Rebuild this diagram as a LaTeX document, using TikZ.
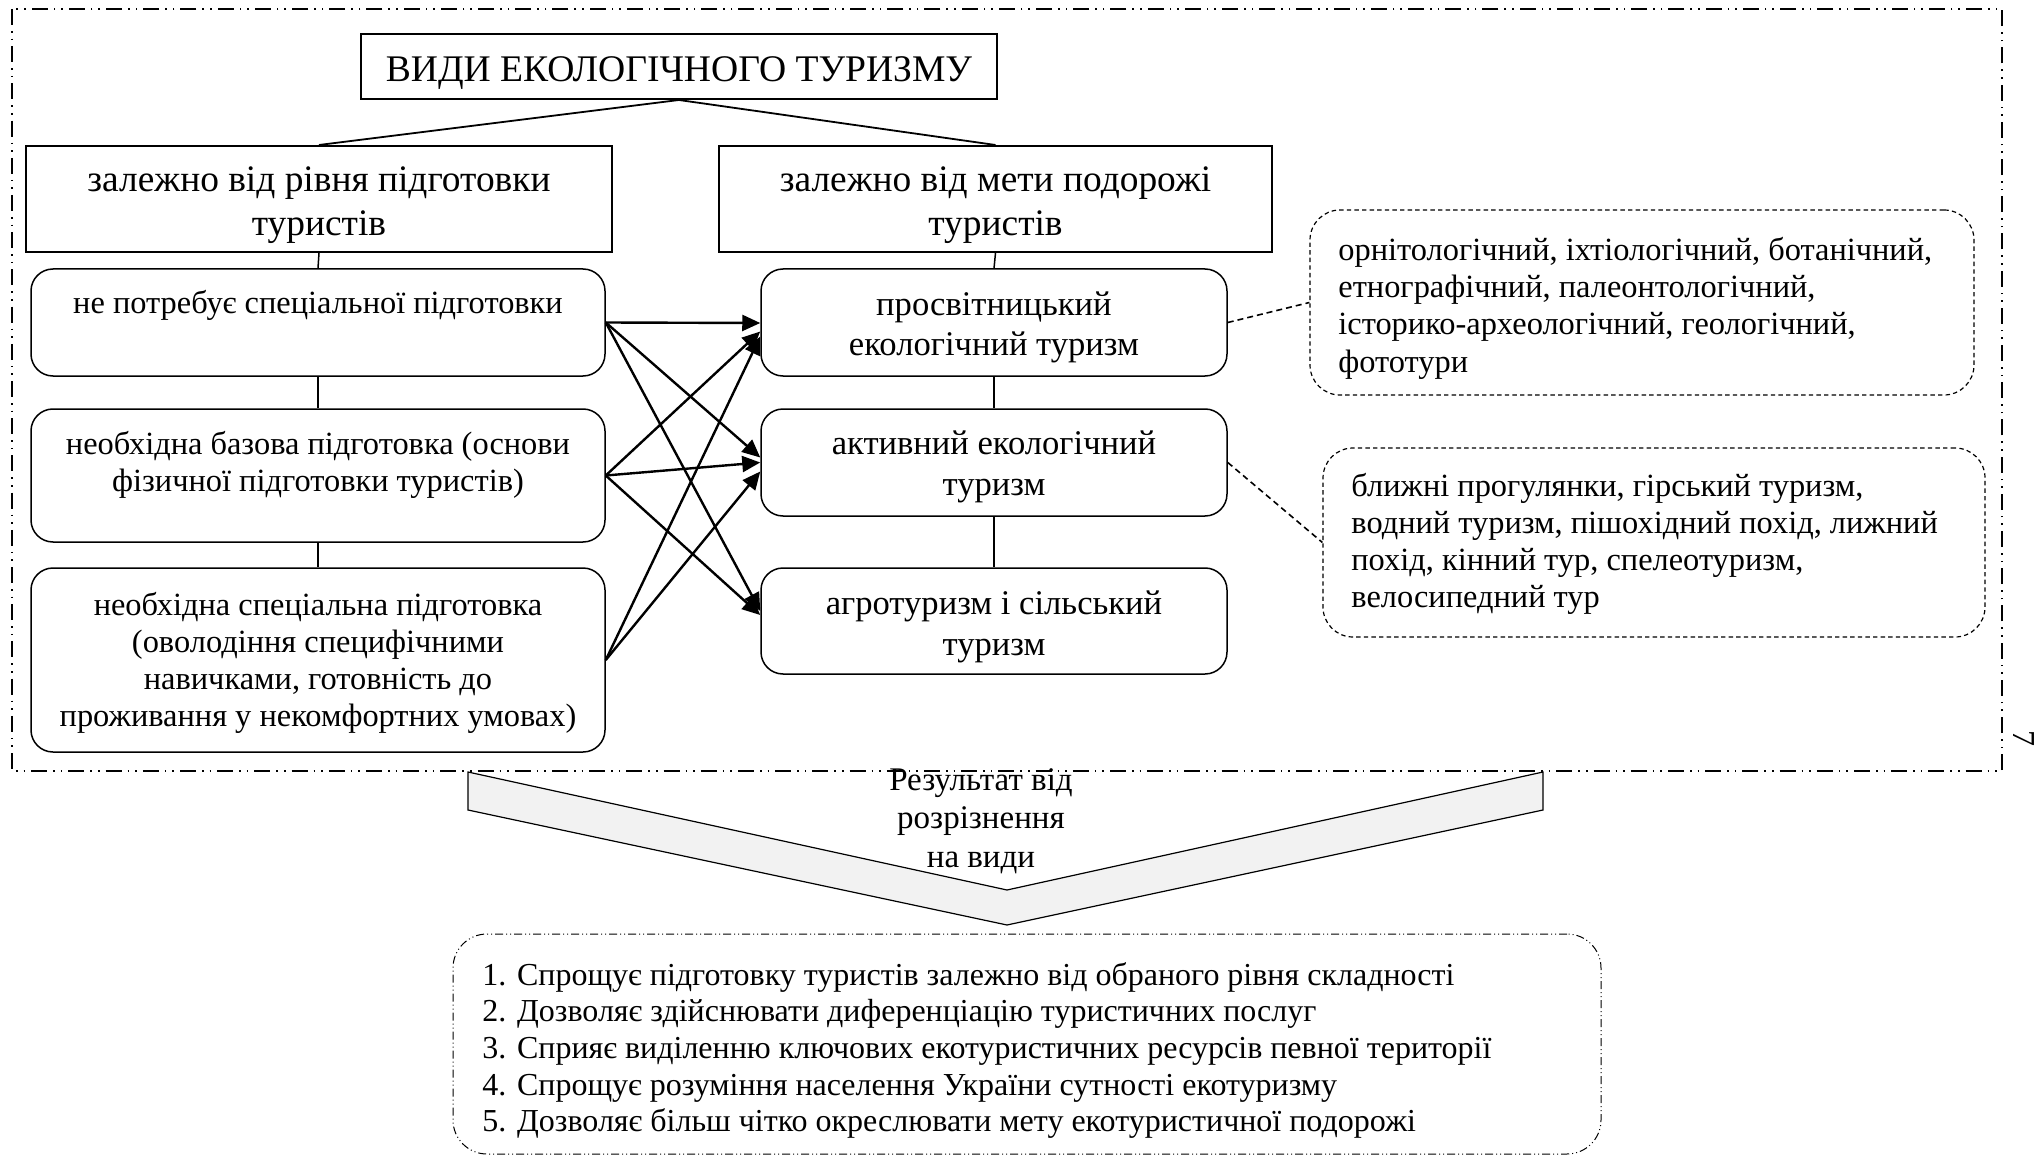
\documentclass[tikz,border=0pt]{standalone}
\usepackage{fontspec}
\setmainfont{Liberation Serif}
\usetikzlibrary{arrows.meta,calc}
\begin{document}
\begin{tikzpicture}[x=0.5pt,y=-0.5pt,
  sqbox/.style={draw, line width=1pt, inner sep=0pt},
  rbox/.style={draw, line width=0.75pt, rounded corners=11pt, inner sep=0pt},
  dbox/.style={draw, line width=0.6pt, dash pattern=on 2.2pt off 1.6pt, rounded corners=15pt, inner sep=0pt},
  botbox/.style={draw, line width=0.5pt, dash pattern=on 4pt off 1.5pt on 0.5pt off 1.5pt on 0.5pt off 1.5pt, rounded corners=17pt, inner sep=0pt},
  frame/.style={line width=0.75pt, dash pattern=on 8pt off 3pt on 0.8pt off 3pt on 0.8pt off 3pt},
  txtH/.style={inner sep=0pt, align=center, font=\fontsize{18.7}{22}\selectfont},
  txtL/.style={inner sep=0pt, align=center, font=\fontsize{16.2}{18.4}\selectfont},
  txtR/.style={inner sep=0pt, align=center, font=\fontsize{17.3}{20.2}\selectfont},
  txtS/.style={inner sep=0pt, align=left, font=\fontsize{16.2}{18.7}\selectfont},
  link/.style={line width=0.75pt},
  arr/.style={line width=1.2pt, -{Triangle[length=9pt,width=8pt]}},
  dlink/.style={line width=0.8pt, dash pattern=on 3pt off 2pt}
]
\useasboundingbox (0,0) rectangle (2040,1155);

% outer frame
\draw[frame] (12,9) rectangle (2002,771);
\node[rotate=-90, inner sep=0pt, font=\fontsize{16}{18}\selectfont] (pg) at (2024,738) {7};

% title and headers
\node[sqbox, minimum width=318pt, minimum height=32.5pt] (T) at (679,66.5) {};
\node[inner sep=0pt, anchor=base, font=\fontsize{18.8}{22}\selectfont] (Tt) at (679,82) {ВИДИ ЕКОЛОГІЧНОГО ТУРИЗМУ};
\node[sqbox, minimum width=293pt, minimum height=53pt] (LH) at (319,199) {};
\node[txtH] (LHt) at (319,205) {залежно від рівня підготовки\\туристів};
\node[sqbox, minimum width=276.5pt, minimum height=53pt] (RH) at (995.5,199) {};
\node[txtH] (RHt) at (995.5,205) {залежно від мети подорожі\\туристів};
\draw[line width=0.9pt] (T.south) -- (LH.north);
\draw[line width=0.9pt] (T.south) -- (RH.north);

% left column
\node[rbox, minimum width=287pt, minimum height=53.5pt] (L1) at (318,322.5) {};
\node[txtL] (L1t) at (318,305) {не потребує спеціальної підготовки};
\node[rbox, minimum width=287pt, minimum height=66.5pt] (L2) at (318,475.5) {};
\node[txtL] (L2t) at (318,465) {необхідна базова підготовка (основи\\фізичної підготовки туристів)};
\node[rbox, minimum width=287pt, minimum height=92pt] (L3) at (318,660) {};
\node[txtL] (L3t) at (318,663) {необхідна спеціальна підготовка\\(оволодіння специфічними\\навичками, готовність до\\проживання у некомфортних умовах)};
\draw[link] (LH.south) -- (L1.north);
\draw[link] (L1.south) -- (L2.north);
\draw[link] (L2.south) -- (L3.north);

% right column
\node[rbox, minimum width=233pt, minimum height=53.5pt] (R1) at (994,322.5) {};
\node[txtR] (R1t) at (994,327.5) {просвітницький\\екологічний туризм};
\node[rbox, minimum width=233pt, minimum height=53.5pt] (R2) at (994,462.5) {};
\node[txtR] (R2t) at (994,467) {активний екологічний\\туризм};
\node[rbox, minimum width=233pt, minimum height=53pt] (R3) at (994,621) {};
\node[txtR] (R3t) at (994,627) {агротуризм і сільський\\туризм};
\draw[link] (RH.south) -- (R1.north);
\draw[link] (R1.south) -- (R2.north);
\draw[link] (R2.south) -- (R3.north);

% arrows
\draw[arr] (L1.east) -- ($(R1.west)+(0,0.5)$);
\draw[arr] (L1.east) -- ($(R2.west)+(0,-5)$);
\draw[arr] (L1.east) -- ($(R3.west)+(0,-10)$);
\draw[arr] (L2.east) -- ($(R1.west)+(0,9)$);
\draw[arr] (L2.east) -- ($(R2.west)+(0,0)$);
\draw[arr] (L2.east) -- ($(R3.west)+(0,-6)$);
\draw[arr] (L3.east) -- ($(R1.west)+(0,14)$);
\draw[arr] (L3.east) -- ($(R2.west)+(0,9)$);

% dashed side boxes
\node[dbox, minimum width=332pt, minimum height=92.5pt] (A) at (1642,302.5) {};
\node[txtS, anchor=west] (At) at (1338,308) {орнітологічний, іхтіологічний, ботанічний,\\етнографічний, палеонтологічний,\\історико-археологічний, геологічний,\\фототури};
\node[dbox, minimum width=331pt, minimum height=94.5pt] (B) at (1654,542.5) {};
\node[txtS, anchor=west, font=\fontsize{16.2}{18.4}\selectfont] (Bt) at (1351,544) {ближні прогулянки, гірський туризм,\\водний туризм, пішохідний похід, лижний\\похід, кінний тур, спелеотуризм,\\велосипедний тур};
\draw[dlink] (R1.east) -- (A.west);
\draw[dlink] (R2.east) -- (B.west);

% chevron
\draw[line width=0.6pt, fill=black!5] (468,772) -- (468,810) -- (1007,925) -- (1543,810) -- (1543,772) -- (1007,890) -- cycle;
\node[txtL, font=\fontsize{16.5}{19.25}\selectfont] (C) at (981,821) {Результат від\\розрізнення\\на види};

% bottom box
\node[botbox, minimum width=574pt, minimum height=110pt] (D) at (1027,1044) {};
\node[txtS, anchor=west, font=\fontsize{16}{18.35}\selectfont] (Dt) at (482,1050.5) {1. Спрощує підготовку туристів залежно від обраного рівня складності\\2. Дозволяє здійснювати диференціацію туристичних послуг\\3. Сприяє виділенню ключових екотуристичних ресурсів певної території\\4. Спрощує розуміння населення України сутності екотуризму\\5. Дозволяє більш чітко окреслювати мету екотуристичної подорожі};
\end{tikzpicture}
\end{document}
